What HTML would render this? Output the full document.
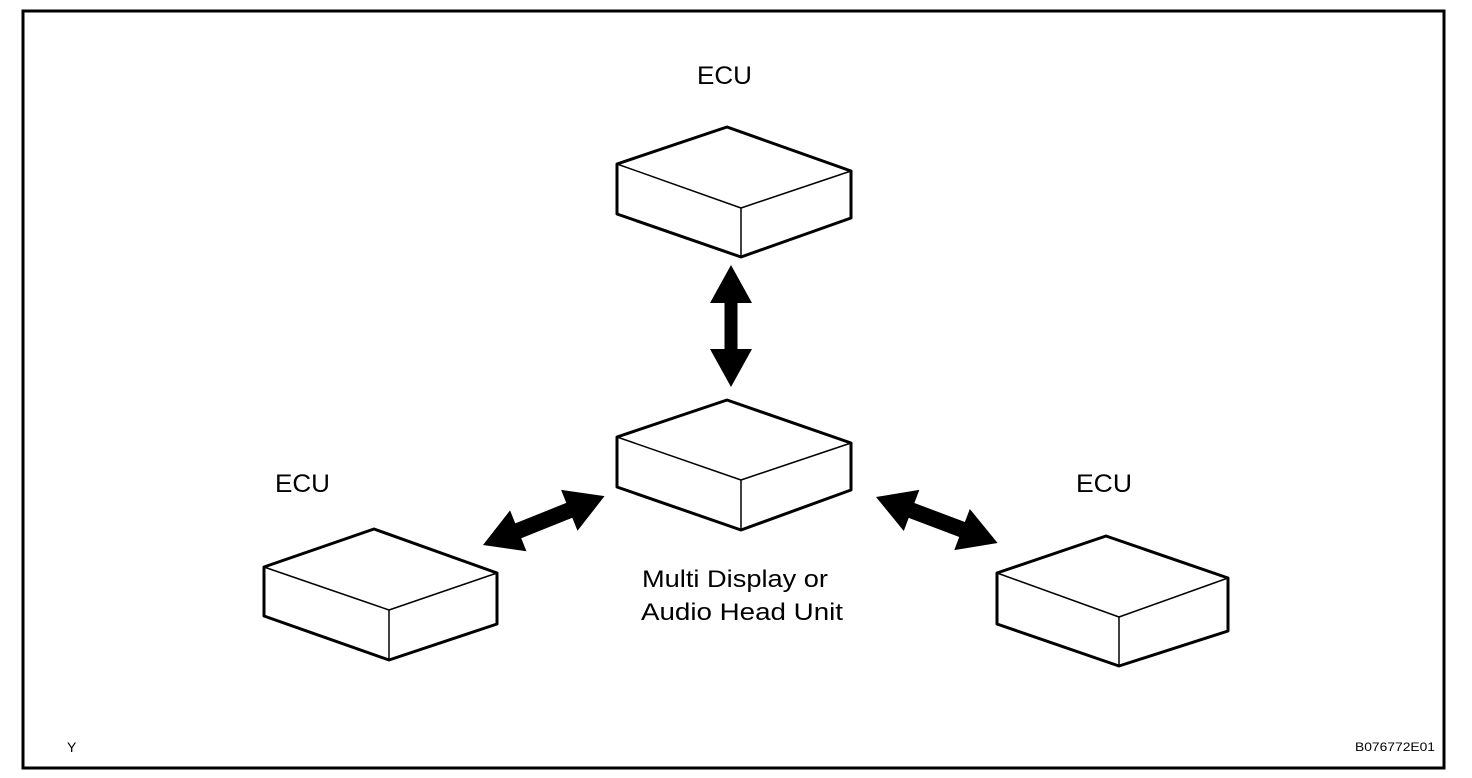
<!DOCTYPE html>
<html><head><meta charset="utf-8"><style>
html,body{margin:0;padding:0;background:#fff;}
svg{display:block;}
text{font-family:"Liberation Sans",Arial,sans-serif;fill:#000;}
</style></head><body>
<svg width="1472" height="778" viewBox="0 0 1472 778" xmlns="http://www.w3.org/2000/svg">
<rect x="0" y="0" width="1472" height="778" fill="#fff"/>
<rect x="23" y="11" width="1421" height="757" fill="none" stroke="#000" stroke-width="3"/>

<g fill="#fff" stroke="#000" stroke-linejoin="round">
<polygon points="727,127 851,171 851,218 741,257 617,214 617,164" stroke-width="3"/>
<polyline points="617,164 741,208 851,171" fill="none" stroke-width="1.5"/>
<line x1="741" y1="208" x2="741" y2="257" stroke-width="1.5"/>
<polygon points="727,400 851,443 851,490 741,530 617,487 617,437" stroke-width="3"/>
<polyline points="617,437 741,480 851,443" fill="none" stroke-width="1.5"/>
<line x1="741" y1="480" x2="741" y2="530" stroke-width="1.5"/>
<polygon points="374,529 497,573 497,624 389,660 264,616 264,567" stroke-width="3"/>
<polyline points="264,567 389,610 497,573" fill="none" stroke-width="1.5"/>
<line x1="389" y1="610" x2="389" y2="660" stroke-width="1.5"/>
<polygon points="1106,536 1228,578 1228,631 1119,666 997,624 997,573" stroke-width="3"/>
<polyline points="997,573 1119,617 1228,578" fill="none" stroke-width="1.5"/>
<line x1="1119" y1="617" x2="1119" y2="666" stroke-width="1.5"/>
</g>

<g fill="#000">
<polygon transform="translate(731,265) rotate(90)" points="0,0 38,-21 38,-6.5 84,-6.5 84,-21 122,0 84,21 84,6.5 38,6.5 38,21"/>
<polygon transform="translate(483,545) rotate(-21.9)" points="0,0 38,-22 38,-8 93,-8 93,-22 131,0 93,22 93,8 38,8 38,22"/>
<polygon transform="translate(876,497) rotate(20.7)" points="0,0 38,-22 38,-8 92,-8 92,-22 130,0 92,22 92,8 38,8 38,22"/>
</g>

<text x="697" y="84" font-size="25" textLength="55" lengthAdjust="spacingAndGlyphs">ECU</text>
<text x="275" y="492" font-size="25" textLength="55" lengthAdjust="spacingAndGlyphs">ECU</text>
<text x="1076" y="492" font-size="25" textLength="56" lengthAdjust="spacingAndGlyphs">ECU</text>
<text x="642" y="587" font-size="24" textLength="186" lengthAdjust="spacingAndGlyphs">Multi Display or</text>
<text x="641" y="620" font-size="24" textLength="202" lengthAdjust="spacingAndGlyphs">Audio Head Unit</text>
<text x="67" y="752" font-size="14">Y</text>
<text x="1355" y="751" font-size="12" textLength="80" lengthAdjust="spacingAndGlyphs">B076772E01</text>
</svg>
</body></html>
